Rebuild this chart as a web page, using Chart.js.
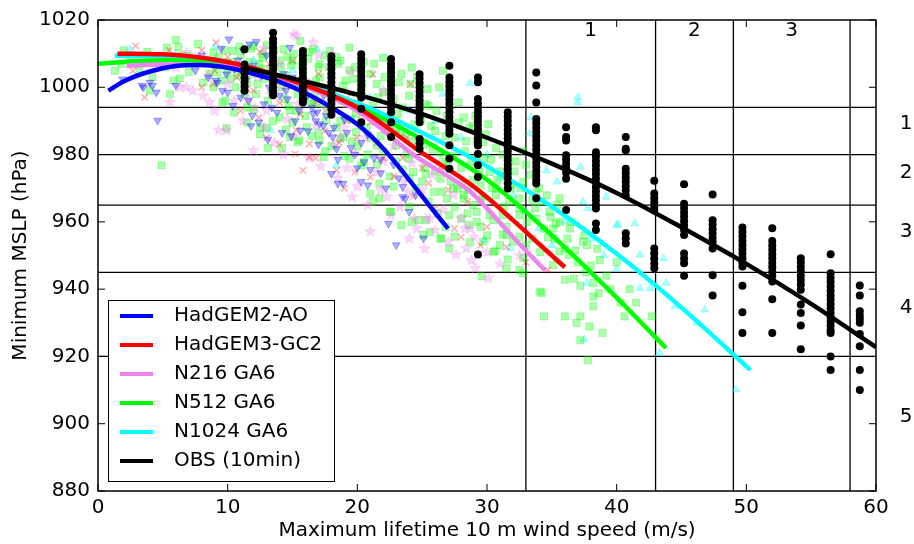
<!DOCTYPE html>
<html>
<head>
<meta charset="utf-8">
<script src="https://cdn.jsdelivr.net/npm/chart.js@4.4.1/dist/chart.umd.min.js"></script>
<style>
  html, body { margin: 0; padding: 0; background: #fff; }
  #wrap { width: 914px; height: 544px; }
</style>
</head>
<body>
<div id="wrap"><canvas id="chart"></canvas></div>
<script>
// category boundaries (Saffir-Simpson style)
const windCats = [33, 43, 49, 58];
const presCats = [994, 980, 965, 945, 920];
const windLabels = ['1', '2', '3'];
const presLabels = ['1', '2', '3', '4', '5'];

// fitted curves
const hg2X = [0.8, 2, 4, 6, 8, 10, 12, 14, 16, 18, 20, 22, 24, 26, 27];
const hg2Y = [999, 1001.8, 1004.7, 1006.3, 1006.6, 1005.8, 1004, 1001.6, 998.3, 994, 989, 981.8, 972.5, 962.7, 958];
const hg3X = [1.5, 5, 10, 15, 20, 25, 28.5, 30, 32, 34, 36];
const hg3Y = [1010, 1009.8, 1007.5, 1002, 994, 980.5, 971.8, 967.3, 960.5, 953.5, 946.5];
const n216X = [2.2, 5, 10, 15, 20, 24.3, 28.7, 30, 32, 34.5];
const n216Y = [1006.4, 1006.8, 1006.3, 1001.5, 993, 980, 969, 964, 955.5, 945.5];
const n512X = [0, 5, 10, 15, 20, 25, 30, 35, 40, 43.8];
const n512Y = [1007, 1008, 1006.5, 1001.5, 994.3, 984.5, 972.5, 956, 937.5, 922.5];
const n1024X = [1.3, 5, 10, 15, 20, 25, 30, 35, 40, 45, 50.3];
const n1024Y = [1009.4, 1009.3, 1006.6, 1002, 995.3, 986.5, 976.5, 964.5, 950.5, 934.5, 916];
const obsX = [11.3, 15, 20, 25, 30, 35, 40, 45, 50, 55, 60];
const obsY = [1005.8, 1002.6, 997.8, 992, 985, 977.3, 968.6, 958.4, 947.5, 935.6, 922.8];

// observed storms, one column per reported wind speed
const obsCols = [
  [11.3, [1011.3, 1006.8, 1005.5, 1004.2, 1002.8, 1001.5, 1000.2, 999]],
  [13.5, [1016.2, 1014.3, 1013, 1011.7, 1010.4, 1009.1, 1007.8, 1006.5, 1005.2, 1003.9, 1002.6, 1001.3, 1000, 998.8, 997.6]],
  [15.8, [1010.8, 1009.5, 1008.2, 1006.9, 1005.6, 1004.3, 1003, 1001.7, 1000.4, 999.1, 997.8, 996.6, 995.5]],
  [18.0, [1009.2, 1008, 1006.7, 1005.4, 1004.1, 1002.8, 1001.5, 1000.2, 998.9, 997.6, 996.3, 995, 993.5, 991.8]],
  [20.3, [1009.8, 1008.5, 1007.2, 1005.9, 1004.6, 1003.3, 1002, 1000.7, 999.4, 998.2, 997, 993.6, 989.6]],
  [22.6, [1008.4, 1007, 1005.7, 1004.4, 1003.1, 1001.8, 1000.5, 999.2, 997.9, 996.6, 995.3, 994, 992.6, 989.6, 985.2]],
  [24.8, [1003.9, 1002.6, 1001.3, 1000, 998.7, 997.4, 996.1, 994.8, 993.5, 992.2, 990.9, 989.6, 984.6, 983.4, 981.7]],
  [27.1, [1006.4, 1002.9, 1001.6, 1000.3, 999, 997.7, 996.4, 995.1, 993.8, 992.5, 991.2, 989.9, 988.6, 987.3, 986.2, 982.8, 978.8, 975.8]],
  [29.3, [1002.9, 1001.5, 996.5, 995.2, 993.9, 992.6, 991.3, 990, 988.7, 987.4, 986.1, 984.8, 983.7, 982.7, 980.2, 976.8, 973.3, 950.3]],
  [31.6, [992.6, 991.3, 990, 988.7, 987.4, 986.1, 984.8, 983.5, 982.2, 980.9, 979.6, 978.3, 977, 975.7, 974.4, 973.1, 971.5, 969.9]],
  [33.8, [1004.4, 1000.5, 995.5, 990.6, 989.3, 988, 986.7, 985.4, 984.1, 982.8, 981.5, 980.2, 978.9, 977.6, 976.3, 975, 973.7, 972.4, 971.4, 967]],
  [36.1, [988.1, 985.2, 984.2, 979.8, 978.5, 977.2, 975.9, 974.6, 972.8, 963.5]],
  [38.4, [988.1, 987.2, 980.7, 979.4, 978.1, 976.8, 975.5, 974.2, 972.9, 971.6, 970.3, 969, 967.7, 966.4, 965, 964, 959.5, 957.6]],
  [40.7, [985.2, 981.7, 981.2, 975.8, 974.5, 973.2, 971.9, 970.6, 969.3, 967.9, 956.6, 955.1, 953.6]],
  [42.9, [972.2, 968.4, 967.1, 965.8, 964.6, 963.5, 952.1, 950.6, 949.1, 947.6, 946.2]],
  [45.2, [971.2, 965.4, 964.1, 962.8, 961.5, 960.2, 958.9, 957.6, 956.1, 950.6, 949.1, 947.7, 944]],
  [47.4, [968.1, 960.5, 959.2, 957.9, 956.6, 955.3, 954, 952.1, 944.1, 938.1]],
  [49.7, [958.3, 957, 955.7, 954.4, 953.1, 951.8, 950.5, 949.2, 947.9, 946.7, 941, 933.1, 927]],
  [52.0, [958.1, 954.3, 953, 951.7, 950.4, 949.1, 947.8, 946.5, 945.2, 943.9, 942.3, 937, 927]],
  [54.2, [949.2, 947.9, 946.6, 945.3, 944, 942.7, 941.4, 939.8, 935.4, 932.9, 929.2, 922.1]],
  [56.5, [950.4, 944.7, 943.4, 942.1, 940.8, 939.5, 938.2, 936.9, 935.6, 934.3, 933, 931.7, 930.4, 929.1, 927.8, 927, 920, 916]],
  [58.75, [941.1, 938.1, 933.4, 932.2, 931.1, 930, 926.7, 923, 916, 910]]
];

// model storms [wind, pressure]
const hg2Pts = [
  [1.9,1002.4],[3.4,1000.5],[4.2,1000.5],[4.5,998.5],[6,1000.5],[4.6,990.1],[10.1,1014.3],[10,998.5],[10.4,994.5],
  [11.9,991.6],[12.4,989.6],[9.2,1001.4],[11.7,1012.8],[16.9,992.6],[17.4,988.6],[18.4,981.7],[18,974.3],[18.5,971.4],
  [18.9,971.4],[20.3,971.9],[20.8,970.9],[22.4,959.5],[23,953.1],[25.1,955.1],[15.6,987.2],[20.5,977.8],[23.5,970.4],
  [23.5,967.4],[23.7,966.9],[9.9,1003.9],[9.1,1002],[14.5,999],[14.8,1011.8],[16.6,992.1],[17.1,989.1],[18.1,985.2],
  [3.5,1000],[4,1001.4],[7.5,1005],[8.5,1003],[9,1008],[9.6,999],[10.5,1005.5],[11,997],[11.4,1002],[12,1006.5],
  [12.8,995],[13.2,1000],[13.8,992.5],[14.3,1004],[14.6,996.5],[15.2,990],[15.8,1001],[16.2,987],[16.5,994],[17,983],
  [17.4,997.5],[17.8,986.5],[18.5,978.5],[19,990.5],[19.5,982],[20,976],[20.8,986],[21.3,979],[21.8,974.5],[22.8,977],
  [24,963],[24.5,968],[11.2,1011],[13,1009.5],[12.2,1013.5],
  [8,1009.5],[9.5,1011.5],[10.8,1008],[11.6,996],[12.6,1003.5],[13.4,994],[14.0,997.5],[14.9,985.5],[15.5,993],
  [16.0,996.5],[16.8,990],[17.6,991.5],[18.2,988],[19.2,986.5],[19.8,980],[20.3,983.5],[21,975.5],[21.8,978.5],
  [22.2,970],[23.2,973],[13.5,1006],[15,1003],[16.4,1001],[17.8,999.5],[11.8,988.5],[13.1,984.5],[14.2,986.5]
];
const hg3Pts = [
  [2.9,1012.3],[2.7,1004.9],[3.6,997],[9.1,1013.3],[10.7,1002.9],[8.9,1001],[24.1,1001],[21.2,1003.9],[15.2,980.2],
  [16.3,979.3],[15.8,975.3],[19.8,974.8],[21,973.3],[15.3,987.2],[18.4,975.3],[8,1000],[16.3,983.2],[34.7,945.7],
  [4,1009],[5.5,1011],[7,1008.5],[8,1011],[10,1009],[11.5,999.5],[12.5,1010.5],[13.5,1003],[14,995.5],[15,1008],
  [16,998.5],[17,1004],[18,993],[19.5,998],[20.5,992],[21.5,983.5],[22.5,987],[23.5,979],[24.5,982],[25.5,971.5],
  [26.5,975.5],[27.5,958],[28.5,966],[30,958.5],[31.5,952.5],[33,948],[13,985],[11,993],
  [9,1005],[11,1004.5],[12,999],[13.2,1007],[14.5,1000.5],[15.6,992],[16.8,995.5],[17.5,987],[18.6,983.5],[19.2,990],
  [20,985],[21,989.5],[22,979],[22.8,973.5],[23.8,985],[24.3,967.5],[25,976],[26,964],[27,969.5],[28,955.5],
  [29.5,953],[12.4,991],[14,983],[16.8,979],[19,970]
];
const n216Pts = [
  [15.3,1015.3],[9.3,987.2],[5.55,995.5],[21,957.1],[27.6,950.2],[29.1,946.2],[30.1,943.3],[28.4,952.1],[19.6,967.4],
  [22.3,967.4],[24.4,961],[25.3,961],[28.3,958],[28.7,958],[23.9,968.9],[21.5,974.8],[24.6,958],[25.6,961],[7.3,999],
  [8.1,997.5],[8.6,995.5],[6.3,1000],[6.8,1010.3],[6.8,1000],[11.5,1003.9],[13.3,998],[16.6,1013.3],[15.1,1015.8],
  [9.9,987.2],[18.7,985.2],[12,981.2],[6,1006],[7.5,1009],[8.5,1003.5],[10,1001],[10.8,1006],[11.6,996.5],[12.3,1003],
  [13,993],[13.8,999.5],[14.6,990.5],[15.4,995],[16,1002],[16.8,988.5],[17.6,993.5],[18.2,983],[19,988],[19.8,980.5],
  [20.6,985],[21.4,990],[22,978],[22.8,982.5],[23.6,972],[24.2,977.5],[25,969.5],[25.8,974],[26.6,963.5],[27.4,968],
  [28,961],[29,955.5],[30,951],[31,947.5],[32.5,950],[12.8,1011.5],[18,1010],
  [9,993],[10.5,996],[11.2,990],[12.1,994],[12.8,988],[13.6,983.5],[14.3,980],[15.1,985.5],[16.3,979],[17.2,976.5],
  [18.5,973],[19.2,976],[20,970.5],[20.8,965],[21.8,969.5],[22.6,962],[23.3,964.5],[24,955],[25.2,952],[26,957.5],
  [27,954],[28.8,948.5],[14,1007],[17,1009.5],[19.5,1004.5],[22,999],[24.6,993]
];
const n512Pts = [
  [1.3,1004.9],[5.3,1011.8],[6.0,1014.1],[5.55,998],[6.3,1002.6],[7.7,1012.8],[8.1,1001.4],[9.9,987.8],[4.9,976.8],
  [9.6,995.5],[19.4,1011.8],[22,1008.8],[24.2,1005.9],[25.3,995],[26.6,1004.9],[13.1,982],[14.2,982],[15.5,984.2],
  [17.4,979.3],[20.3,976.8],[21.7,971.4],[22.6,963],[24,964.5],[24.2,960],[25.3,960.5],[25.6,957],[26.5,955],[27.1,952.1],
  [28.7,954],[29.6,943.8],[31.5,946.2],[31.6,948.8],[32.8,944.7],[34.1,939.3],[34.1,951],[31.2,956.2],[30.2,962],
  [28.9,965],[28.2,968],[27.4,969.9],[30.7,969.9],[32.5,962],[33.5,955],
  [34.4,931.9],[36,942.8],[36.7,943.1],[37.2,941],[38.2,941.8],[38.2,937.8],[38.2,934.9],[38.6,938.8],[34.2,938.8],
  [36,931.9],[37.2,931.9],[36.9,930],[37.9,928.9],[38.9,927],[37.2,924.8],[37.8,918.9],[40.6,931.9],[42.7,931.9],
  [35.1,947.2],[35.6,951.2],[36.3,950.2],[37.4,954.1],[38.7,948.7],[32.8,949.2],[30.5,951.2],[32.5,945.7],[31.5,956.1],
  [29.2,960],[31.2,962],[32.5,964],[33.8,961],[34.9,961.5],[35.1,958],[36.4,958],[35.6,960],[29.7,954.1],[31,953.1],
  [32,954.1],[30.7,967.9],[31.8,969.9],[29.5,970.9],[30.2,974.8],[29.2,977.8],[31.5,973.8],[32.8,971.9],[33.8,968.9],
  [34.6,967.9],[35.4,965],[37.7,953.1],
  [28.2,991],[28.9,988.6],[29.7,983.7],[22.5,963],[23.4,959],[24.7,960.5],[26.2,962.5],[27.1,962],[28,961],[28.6,959],
  [29.2,963],[25.1,956.1],[26.4,955.1],[27.5,955.6],[30.6,951.2],[21,968.4],[21.2,966],[21.7,967],[19.4,978.8],
  [20.5,977.8],[21.5,982.7],[23,982.7],[24,978.8],[24.3,974.8],[25.3,974.3],[26.4,972.8],[27.7,969.9],[25.9,968.9],
  [26.9,966.9],[28.2,966.9],[18.7,984.7],[19.9,986.7],[23.3,986.7],
  [7.0,1009.3],[8.9,1010.3],[8.9,1000],[9.8,996],[12.5,988.1],[14,991.1],[11.5,994],[14.8,985.2],[15.4,983.7],
  [17.1,984.2],[16.1,988.1],[17.6,990.1],[18.4,988.1],[18.9,985.2],[14.8,993.1],[16.6,995],[15.6,1013.8],[16.6,1011.3],
  [17.9,1010.8],[18.7,1007.9],[14.3,1011.3],[12,1012.3],[10.4,1010.8],[12.7,1008.8],[15,1007.9],[17.1,1006.9],[11.5,1004.9],
  [8.2,1008],[8.6,1004],[9.0,1006.5],[9.3,1009],[9.5,1002],[9.8,1011],[10.0,1005],[10.3,1007.5],[10.6,1000],[10.8,1003.5],
  [11.0,1009.5],[11.2,1006],[11.5,1001.5],[11.8,1011.5],[12.0,1004],[12.2,998],[12.4,1007],[12.7,1009.8],[12.9,1002.5],
  [13.1,996],[13.3,1005.5],[13.6,1011],[14.0,1008],[14.2,1000],[14.5,1003.5],[14.7,994.5],[14.9,1006.5],[15.1,1010],
  [15.4,998],[15.6,1001.5],[15.8,1004.5],[16.0,991.5],[16.2,1008.5],[16.4,996],[16.8,1002],[17.0,1006],[17.2,999],
  [17.5,1009.5],[17.7,993],[18.0,1003.5],[18.2,997],[18.5,1007],[18.7,990],[18.9,1000.5],[19.2,995],[19.4,1005],
  [19.7,1002.5],[19.9,992],[20.2,998],[20.5,1007.5],[20.7,988],[21.0,1004],[21.2,995.5],[21.5,1001],[21.8,985.5],
  [22.0,998.5],[22.3,991],[22.6,1005.5],[23.0,987.5],[23.2,1001.5],[23.5,994],[23.8,980],[24.0,997.5],[24.3,984],
  [24.6,1003],[24.9,990],[25.2,976],[25.5,994.5],[25.8,981.5],[26.0,987],[26.3,1000],[26.6,978],[26.9,991.5],[27.2,972],
  [27.5,985],[27.8,995.5],[28.0,976],[28.3,981],[28.6,988],[28.9,972.5],[29.2,984],[29.5,966.5],[29.8,979],[30.1,989],
  [30.4,970],[30.7,982],[31.0,975],[31.3,964.5],[31.6,985],[31.9,971],[32.2,978],[32.5,967],[32.8,981],[33.1,960],
  [33.4,974],[33.7,964],[34.0,970],[34.4,958],[34.8,963],[35.2,955],[35.6,967],[36.0,952],[36.5,960],[37.0,948],
  [37.5,956],[38.0,947],[38.5,952],[39.2,944],[40.0,948],[41.0,940],[41.5,936],
  [10.5,992.5],[11.5,989.5],[12.5,986],[13.5,990],[14.5,987.5],[16.5,985.5],[17.5,981],[19,979.5],[20,982.5],[21.5,977],
  [22.5,973.5],[23.5,975.5],[24.5,970],[25.5,966],[26.5,969],[27.5,964.5],[28.5,962.5],[29.5,958.5],[30.5,960.5],
  [31.5,958.5],[32.5,955.5],
  [1.8,1007],[2.5,1009],[3.2,1005],[3.8,1010.5],[4.2,1003],[4.6,1008],[5.2,1006],[5.8,1002],[6.5,1009.5],[7.0,1004.5],
  [7.5,1007],[2.0,1011],[6.2,1012],[4.0,999],
  [9.2,1004.5],[9.7,1007.5],[10.2,1002.5],[10.9,1012],[11.3,998],[11.7,1007.5],[12.3,1001],[12.6,1005.5],[13.0,1012.5],
  [13.4,999],[13.8,1003],[14.1,1006],[14.4,996.5],[14.6,1009],[15.0,1002],[15.3,993],[15.7,1006.5],[16.1,1000],
  [16.3,1010.5],[16.7,997.5],[17.1,1003],[17.3,995],[17.8,1006],[18.1,999],[18.4,1009],[18.8,996],[19.1,1002],
  [19.5,990.5],[19.8,1006],[20.1,995],[20.4,1001],[20.9,992.5],[21.3,1007],[21.6,997],[22.1,1003],[22.4,988.5],
  [22.8,996.5],[23.1,992],[23.4,1004],[23.7,985.5],[24.1,1001],[24.4,989],[24.8,996],[25.1,983],[25.4,999.5],
  [25.7,988.5],[26.1,993],[26.4,980.5],[26.8,985.5],[27.1,997.5],[27.4,979.5],[27.8,989.5],[28.1,971],[28.4,984],
  [28.8,978],[29.1,991.5],[29.4,975],[29.9,986],[30.3,978.5],[30.8,972.5],[31.2,980],[31.7,966],[32.1,975],[32.6,970],
  [33.0,977],[33.5,966.5],[34.2,966],[34.7,955.5],[35.3,959.5],[36.2,955],[36.8,951.5],[37.6,945],[39.5,940],[40.3,936],
  [12.0,993.5],[13.0,988],[15.0,989.5],[17,986.5],[18,982.5],[19.6,984],[20.8,980],[22.0,981],[23.0,978],[24.0,973],
  [25.0,972],[26.0,975],[27.0,977],[28.5,969.5],[29.7,967.5],[21.0,985],[22.8,970.5],[26.8,958.5],[30.0,956],[33.0,953]
];
const n1024Pts = [
  [2.5,1011.3],[13.3,987.2],[28.7,1001.2],[16.9,1011.3],[18.4,976.8],[29.8,954.6],[31.8,952.1],[33.4,991.1],[37,997],
  [37,995.5],[33.3,986.2],[37.2,976.3],[35.4,971.9],[34.6,975.3],[37.4,966],[39.2,967.4],[40.1,959.3],[41.4,959.5],
  [43.6,949.2],[41.8,950.2],[42.6,940.3],[41.8,940.3],[43.8,941.8],[37.7,941.8],[37.5,925],[46.2,930],[46.8,933.9],
  [43.3,921],[49.2,910.2],[37.8,964],[40,959],[26.6,998],
  [3.5,1008],[6,1010],[9,1012],[12,1008],[15,1005],[18,1000],[21,997],[24,993],[26,990],[28,985],[30,980],[31,973],
  [32,968],[33,963],[34,958],[35,953],[36,960],[38,955],[39,950],[40,946],[44.5,935]
];

const toXY = pts => pts.map(p => ({ x: p[0], y: p[1] }));
const zipXY = (xs, ys) => xs.map((x, i) => ({ x, y: ys[i] }));
const obsPts = [];
obsCols.forEach(c => c[1].forEach(y => obsPts.push({ x: c[0], y })));

// filled five point star for the N216 markers
function starImage(color, r) {
  const c = document.createElement('canvas');
  const s = Math.ceil(r * 2 + 2);
  c.width = c.height = s;
  const g = c.getContext('2d');
  g.translate(s / 2, s / 2);
  g.beginPath();
  for (let i = 0; i < 10; i++) {
    const rad = i % 2 ? r * 0.42 : r;
    const a = -Math.PI / 2 + i * Math.PI / 5;
    g.lineTo(rad * Math.cos(a), rad * Math.sin(a));
  }
  g.closePath();
  g.fillStyle = color;
  g.fill();
  g.strokeStyle = color;
  g.lineWidth = 1;
  g.stroke();
  return c;
}

const A = 0.32;
const scatterSet = (data, style, fill, stroke, radius, extra) => Object.assign({
  data: toXY(data), pointStyle: style, pointRadius: radius, pointBackgroundColor: fill,
  pointBorderColor: stroke, pointBorderWidth: 1, showLine: false, order: 10
}, extra || {});
const lineSet = (label, xs, ys, color, order) => ({
  label, data: zipXY(xs, ys), showLine: true, borderColor: color, backgroundColor: color,
  borderWidth: 4.5, pointRadius: 0, cubicInterpolationMode: 'monotone', order: order
});

const legendItems = [
  ['HadGEM2-AO', '#0000ff'], ['HadGEM3-GC2', '#ff0000'], ['N216 GA6', '#ee82ee'],
  ['N512 GA6', '#00ff00'], ['N1024 GA6', '#00ffff'], ['OBS (10min)', '#000000']
];

const FONT = '20px "DejaVu Sans"';

const decor = {
  id: 'decor',
  beforeDatasetsDraw(chart) {
    const { ctx, chartArea: a, scales: { x, y } } = chart;
    ctx.save();
    ctx.strokeStyle = '#000';
    ctx.lineWidth = 1.3;
    ctx.beginPath();
    windCats.forEach(v => {
      const px = x.getPixelForValue(v);
      ctx.moveTo(px, a.top); ctx.lineTo(px, a.bottom);
    });
    presCats.forEach(v => {
      const py = y.getPixelForValue(v);
      ctx.moveTo(a.left, py); ctx.lineTo(a.right, py);
    });
    ctx.stroke();
    ctx.restore();
  },
  afterDraw(chart) {
    const { ctx, chartArea: a, scales: { x, y } } = chart;
    ctx.save();
    // frame
    ctx.strokeStyle = '#000';
    ctx.lineWidth = 1.5;
    ctx.strokeRect(a.left, a.top, a.right - a.left, a.bottom - a.top);
    // inward ticks on all four sides
    ctx.lineWidth = 1;
    ctx.beginPath();
    x.ticks.forEach(t => {
      const px = x.getPixelForValue(t.value);
      ctx.moveTo(px, a.bottom); ctx.lineTo(px, a.bottom - 7);
      ctx.moveTo(px, a.top); ctx.lineTo(px, a.top + 7);
    });
    y.ticks.forEach(t => {
      const py = y.getPixelForValue(t.value);
      ctx.moveTo(a.left, py); ctx.lineTo(a.left + 7, py);
      ctx.moveTo(a.right, py); ctx.lineTo(a.right - 7, py);
    });
    ctx.stroke();

    ctx.fillStyle = '#000';
    ctx.font = FONT;
    ctx.textAlign = 'center';
    ctx.textBaseline = 'middle';
    // category numbers along the top
    windLabels.forEach((s, i) => {
      const px = (x.getPixelForValue(windCats[i]) + x.getPixelForValue(windCats[i + 1])) / 2;
      ctx.fillText(s, px, a.top + 11);
    });
    // category numbers on the right
    presLabels.forEach((s, i) => {
      const lo = i + 1 < presCats.length ? presCats[i + 1] : y.min;
      const py = (y.getPixelForValue(presCats[i]) + y.getPixelForValue(lo)) / 2 - 7;
      ctx.fillText(s, a.right + 30, py);
    });

    // axis titles
    ctx.fillText('Maximum lifetime 10 m wind speed (m/s)', (a.left + a.right) / 2, 531);
    ctx.save();
    ctx.translate(21, (a.top + a.bottom) / 2);
    ctx.rotate(-Math.PI / 2);
    ctx.fillText('Minimum MSLP (hPa)', 0, 0);
    ctx.restore();

    // legend box
    const lx = 108, ly = 300, lw = 226, lh = 181;
    ctx.fillStyle = '#fff';
    ctx.fillRect(lx, ly, lw, lh);
    ctx.strokeStyle = '#000';
    ctx.lineWidth = 1;
    ctx.strokeRect(lx + 0.5, ly + 0.5, lw, lh);
    ctx.textAlign = 'left';
    legendItems.forEach((it, i) => {
      const ry = ly + 16 + i * 29;
      ctx.strokeStyle = it[1];
      ctx.lineWidth = 4;
      ctx.beginPath();
      ctx.moveTo(lx + 12, ry); ctx.lineTo(lx + 45, ry);
      ctx.stroke();
      ctx.fillStyle = '#000';
      ctx.fillText(it[0], lx + 66, ry);
    });
    ctx.restore();
  }
};

Chart.defaults.font.family = '"DejaVu Sans"';
Chart.defaults.font.size = 20;
Chart.defaults.color = '#000';

new Chart(document.getElementById('chart'), {
  type: 'scatter',
  data: {
    datasets: [
      scatterSet(hg2Pts, 'triangle', `rgba(0,0,255,${A})`, `rgba(0,0,255,${A})`, 4.5, { rotation: 180 }),
      scatterSet(hg3Pts, 'crossRot', `rgba(255,0,0,${A})`, `rgba(255,0,0,${A})`, 4.5, { pointBorderWidth: 1.5 }),
      scatterSet(n216Pts, starImage(`rgba(238,130,238,${A})`, 5.5), '#fff', '#fff', 5),
      scatterSet(n512Pts, 'rect', `rgba(0,255,0,${A})`, `rgba(0,255,0,${A})`, 5),
      scatterSet(n1024Pts, 'triangle', `rgba(0,255,255,${A})`, `rgba(0,255,255,${A})`, 4.5),
      lineSet('HadGEM2-AO', hg2X, hg2Y, '#0000ff', 5),
      lineSet('HadGEM3-GC2', hg3X, hg3Y, '#ff0000', 5),
      lineSet('N216 GA6', n216X, n216Y, '#ee82ee', 5),
      lineSet('N512 GA6', n512X, n512Y, '#00ff00', 5),
      lineSet('N1024 GA6', n1024X, n1024Y, '#00ffff', 5),
      { data: obsPts, pointStyle: 'circle', pointRadius: 4, pointBackgroundColor: '#000', pointBorderWidth: 0, showLine: false, order: 2 },
      lineSet('OBS (10min)', obsX, obsY, '#000000', 1)
    ]
  },
  options: {
    responsive: true,
    maintainAspectRatio: false,
    animation: false,
    events: [],
    layout: { padding: { top: 17, right: 38, left: 0, bottom: 0 } },
    plugins: { legend: { display: false }, tooltip: { enabled: false } },
    scales: {
      x: {
        type: 'linear', min: 0, max: 60,
        ticks: { stepSize: 10, padding: 5, font: { size: 20 }, maxRotation: 0, callback: v => String(v) },
        grid: { display: false, drawTicks: false },
        border: { display: false },
        afterFit: s => { s.height = 53; }
      },
      y: {
        type: 'linear', min: 880, max: 1020,
        ticks: { stepSize: 20, padding: 8, font: { size: 20 }, callback: v => String(v) },
        grid: { display: false, drawTicks: false },
        border: { display: false },
        afterFit: s => { s.width = 98; }
      }
    }
  },
  plugins: [decor]
});
</script>
</body>
</html>
